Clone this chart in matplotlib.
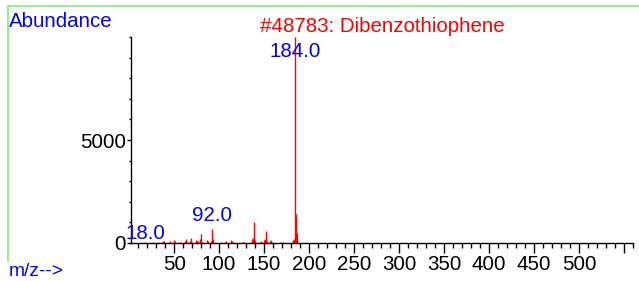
import matplotlib
matplotlib.use("Agg")
import matplotlib.pyplot as plt
from matplotlib.lines import Line2D
from matplotlib.ticker import MultipleLocator, FixedLocator

plt.rcParams['font.family'] = ['Liberation Sans', 'DejaVu Sans']

# Mass spectrum data (m/z, abundance)
mz = [18, 27, 32, 37, 38, 39, 44, 45, 50, 51, 56, 57, 62, 63, 64, 68, 69, 70,
      74, 75, 76, 79, 80, 81, 87, 88, 91, 92, 93, 102, 107, 108, 113, 114, 115,
      126, 127, 128, 136, 137, 138, 139, 140, 145, 146, 150, 151, 152, 153,
      157, 158, 160, 169, 171, 181, 182, 183, 184, 185, 186, 187]
abundance = [30, 30, 60, 40, 80, 120, 50, 80, 140, 90, 40, 60, 120, 180, 70, 100, 220, 60,
             150, 120, 90, 200, 430, 60, 150, 120, 90, 700, 180, 60, 70, 100, 150, 100, 60,
             50, 60, 50, 120, 180, 220, 1020, 140, 60, 80, 150, 200, 600, 90,
             80, 150, 60, 40, 50, 60, 150, 200, 9999, 1400, 500, 60]

labeled_mz = [18.0, 92.0, 184.0]
labeled_txt = ["18.0", "92.0", "184.0"]
labeled_y = [200, 1070, 9030]

title = "#48783: Dibenzothiophene"
x_major = [50, 100, 150, 200, 250, 300, 350, 400, 450, 500, 550]
x_labels = ["50", "100", "150", "200", "250", "300", "350", "400", "450", "500", ""]
y_major = [0, 5000]
y_labels = ["0", "5000"]

W, H = 639, 281
FS = 14.8
fig = plt.figure(figsize=(W / 100, H / 100), dpi=100)
fig.patch.set_facecolor('white')

ax = fig.add_axes([131 / W, 1 - 243 / H, (633 - 131) / W, (243 - 37) / H])
ax.vlines(mz, 0, abundance, colors='#ff0000', linewidth=1.0, clip_on=False)
ax.set_xlim(2, 560)
ax.set_ylim(0, 10000)

for s in ['top', 'right']:
    ax.spines[s].set_visible(False)
for s in ['left', 'bottom']:
    ax.spines[s].set_linewidth(1.0)
    ax.spines[s].set_color('black')

ax.xaxis.set_major_locator(FixedLocator(x_major))
ax.set_xticklabels(x_labels)
ax.xaxis.set_minor_locator(MultipleLocator(10))
ax.yaxis.set_major_locator(FixedLocator(y_major))
ax.set_yticklabels(y_labels)
ax.yaxis.set_minor_locator(MultipleLocator(1000))

ax.tick_params(axis='x', which='major', length=7, width=1, direction='out', labelsize=FS, pad=2)
ax.tick_params(axis='x', which='minor', length=3.6, width=1, direction='out')
ax.tick_params(axis='y', which='major', length=3, width=1, direction='out', labelsize=FS, pad=0.5)
ax.tick_params(axis='y', which='minor', length=1.8, width=1, direction='out')

for x, t, y in zip(labeled_mz, labeled_txt, labeled_y):
    ax.text(x, y, t, color='#0000ff', fontsize=FS, ha='center', va='baseline', clip_on=False)

# Figure texts
fig.text(9 / W, 1 - 27 / H, "Abundance", color='#0000ff', fontsize=FS, ha='left', va='baseline')
fig.text(382 / W, 1 - 32 / H, title, color='#ff0000', fontsize=FS, ha='center', va='baseline')
fig.text(9 / W, 1 - 276 / H, "m/z-->", color='#0000ff', fontsize=FS - 1, ha='left', va='baseline')

# green frame
fig.add_artist(Line2D([8 / W, 1.0], [1 - 6 / H, 1 - 6 / H], color='#80ee80', linewidth=1.2))
fig.add_artist(Line2D([8 / W, 8 / W], [1 - 6 / H, 1 - 261 / H], color='#80ee80', linewidth=1.2))

fig.savefig("out.png", dpi=100)
